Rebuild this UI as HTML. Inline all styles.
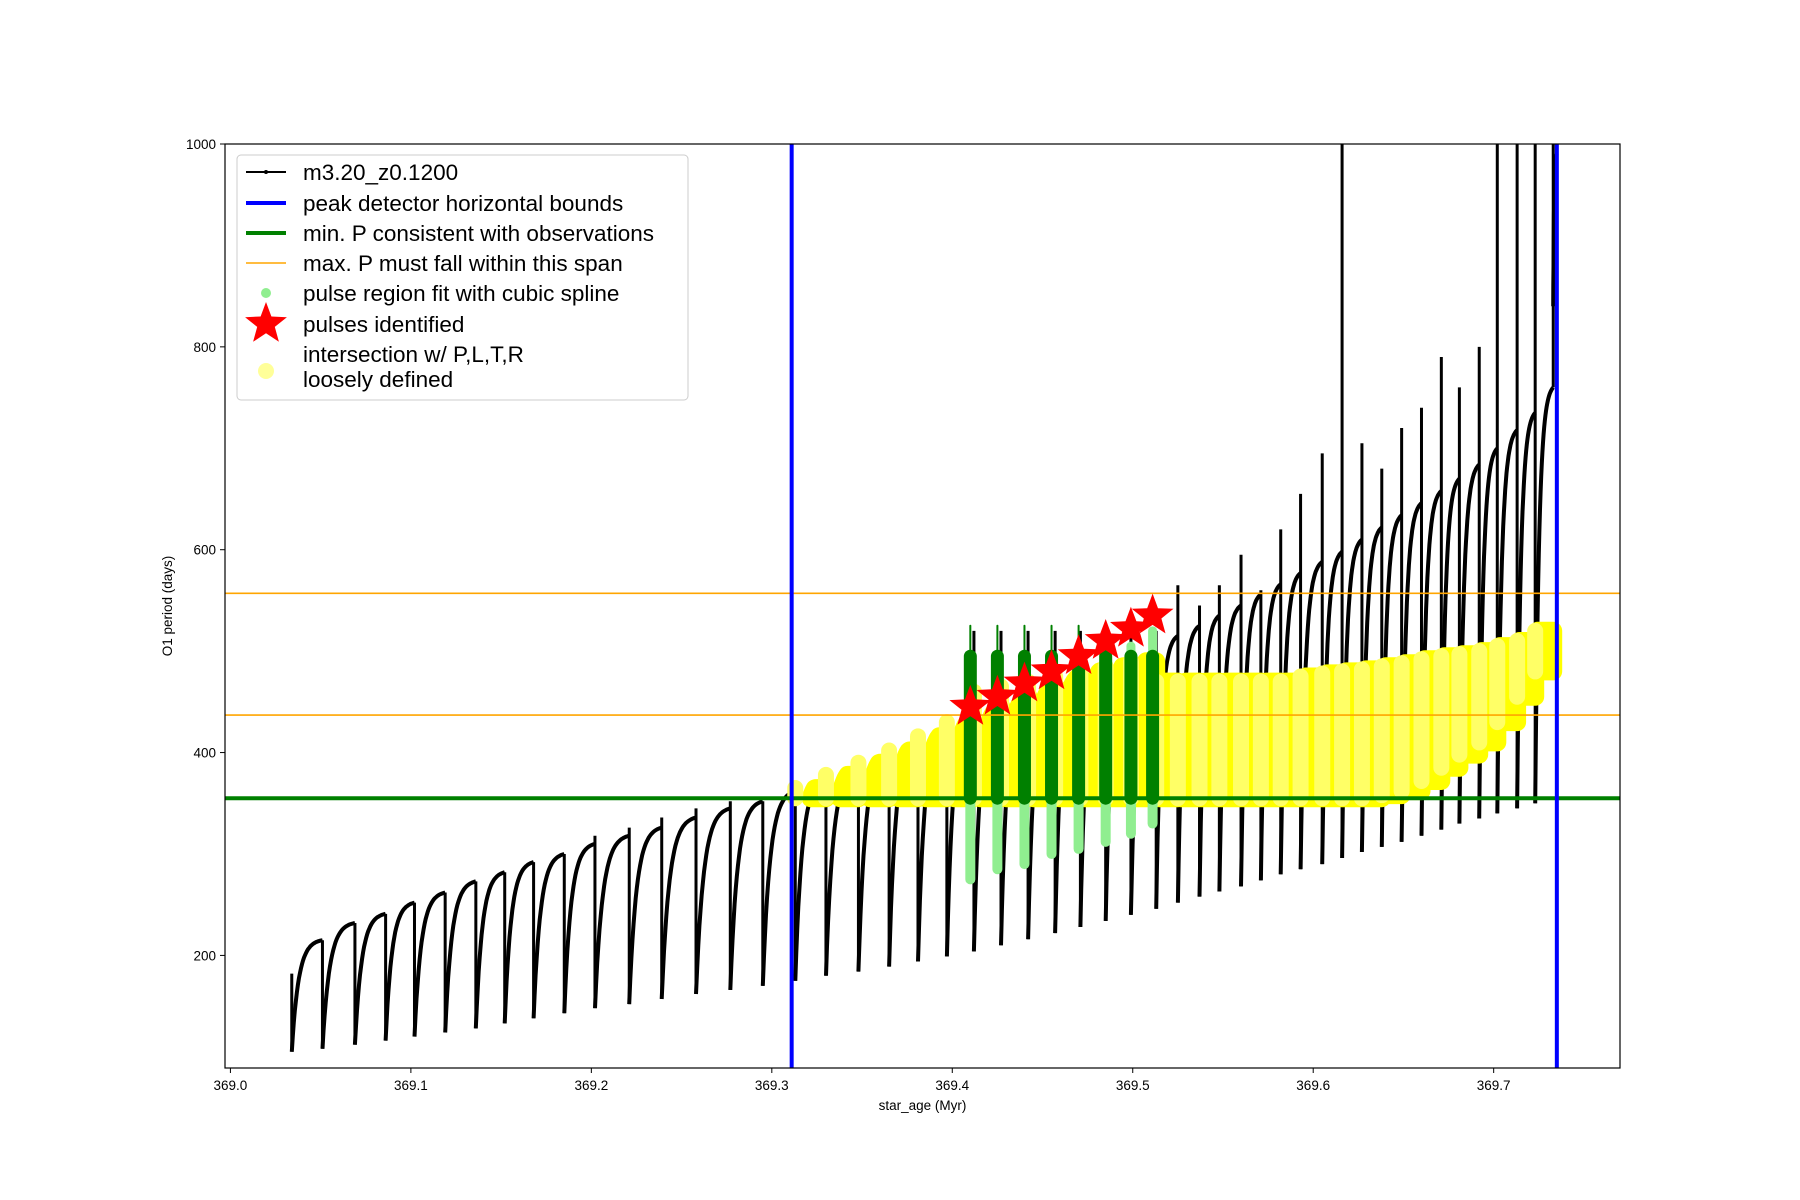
<!DOCTYPE html>
<html><head><meta charset="utf-8">
<style>
html,body{margin:0;padding:0;background:#fff;}
svg{display:block;font-family:"Liberation Sans","DejaVu Sans",sans-serif;}
</style></head>
<body>
<svg id="chart" width="1800" height="1200" viewBox="0 0 1800 1200" xmlns="http://www.w3.org/2000/svg">
</svg>
<script>
// ---- data ----
const cycleAge = [369.034,369.051,369.069,369.086,369.102,369.119,369.136,369.152,369.168,369.185,369.202,369.221,369.239,369.258,369.277,369.295,369.313,369.330,369.348,369.365,369.381,369.397,369.412,369.427,369.442,369.457,369.471,369.485,369.499,369.513,369.525,369.537,369.548,369.560,369.571,369.582,369.593,369.605,369.616,369.627,369.638,369.649,369.660,369.671,369.681,369.692,369.702,369.713,369.723,369.733];
const cycleMin = [105,108,112,116,120,124,128,133,138,143,148,152,157,162,166,170,175,180,184,189,194,199,204,210,216,222,228,234,240,246,252,258,263,268,274,280,285,290,296,302,307,312,318,324,330,335,340,345,350,840];
const cycleMax = [215,232,241,252,262,273,282,292,300,310,318,326,336,345,352,362,374,386,398,410,422,435,446,456,466,476,486,495,505,515,525,535,545,556,566,577,588,598,610,622,634,646,658,670,684,700,718,735,760,990];
const cycleSpike = [182,215,232,241,252,262,273,282,292,300,318,326,336,345,352,348,362,380,392,405,420,432,520,520,520,520,520,520,520,520,565,545,565,595,560,620,655,695,1000,705,680,720,740,790,760,800,1000,1000,1000,1000];
const yellowBottom = [0,0,0,0,0,0,0,0,0,0,0,0,0,0,0,0,355,355,355,355,355,355,355,355,355,355,355,355,355,355,355,355,355,355,355,355,355,355,355,355,358,362,372,385,398,410,430,455,480,0];
const yellowTop = [0,0,0,0,0,0,0,0,0,0,0,0,0,0,0,0,365,378,390,402,416,430,460,465,470,475,480,485,490,470,470,470,470,470,470,470,475,478,480,482,485,488,492,495,497,500,505,510,520,0];
const pulseAges = [369.410,369.425,369.440,369.455,369.470,369.485,369.499,369.511];
const pulsePeriods = [445,455,468,480,495,510,522,535];
const pulseFitLow = [275,285,290,300,305,312,320,330];
const pulseFitHigh = [525,525,525,525,525,505,505,520];
const xTicks = [369.0,369.1,369.2,369.3,369.4,369.5,369.6,369.7];
const yTicks = [200,400,600,800,1000];
const blueBounds = [369.311,369.735];
const minP = 355;
const maxPSpan = [437,557];

// ---- axes ----
const L=225,R=1620,T=144,B=1068;
const xmin=368.997,xmax=369.770,ymin=89,ymax=1000;
const X=v=>L+(v-xmin)/(xmax-xmin)*(R-L);
const Y=v=>B-(v-ymin)/(ymax-ymin)*(B-T);
const NS="http://www.w3.org/2000/svg";
const svg=document.getElementById('chart');
function mk(tag,attrs,parent){const e=document.createElementNS(NS,tag);for(const k in attrs)e.setAttribute(k,attrs[k]);(parent||svg).appendChild(e);return e;}

const defs=mk('defs',{});
const cp=mk('clipPath',{id:'clip'},defs);
mk('rect',{x:L,y:T,width:R-L,height:B-T},cp);
const plot=mk('g',{'clip-path':'url(#clip)'});



function curveAt(i,u){const f=(1-Math.exp(-4.5*u))/(1-Math.exp(-4.5));return cycleMin[i]+(cycleMax[i]-cycleMin[i])*f;}
function cycleEnd(i){return i<cycleAge.length-1?cycleAge[i+1]:cycleAge[i]+0.002;}

// black series
const blackG=mk('g',{},plot);


for(let i=0;i<cycleAge.length;i++){
  const a0=cycleAge[i],a1=cycleEnd(i);
  let pts=[];
  for(let k=0;k<=30;k++){const u=k/30;pts.push(X(a0+(a1-a0)*u).toFixed(1)+','+Y(curveAt(i,u)).toFixed(1));}
  const pl=mk('polyline',{points:pts.join(' '),fill:'none',stroke:'#000','stroke-width':4},blackG);
  
  
  const sp=mk('line',{x1:X(a0),x2:X(a0),y1:Y(Math.max(cycleSpike[i],i>0?cycleMax[i-1]:cycleSpike[i])),y2:Y(i>0?Math.min(cycleMin[i],cycleMax[i-1]):cycleMin[i]),stroke:'#000','stroke-width':3},blackG);
  
  
}

// yellow intersection
const yelG=mk('g',{},plot);


for(let i=0;i<cycleAge.length;i++){
  if(!yellowTop[i])continue;
  const a0=cycleAge[i],a1=cycleEnd(i),lo=yellowBottom[i],hi=yellowTop[i];
  let pts=[];
  for(let k=0;k<=30;k++){const u=k/30;const p=curveAt(i,u);if(p>=lo)pts.push(X(a0+(a1-a0)*u).toFixed(1)+','+Y(Math.min(p,hi)).toFixed(1));}
  if(pts.length){
    const first=pts[0].split(','),last=pts[pts.length-1].split(',');
    const poly=mk('polygon',{points:pts.join(' ')+' '+last[0]+','+Y(lo)+' '+first[0]+','+Y(lo),fill:'#ffff00',stroke:'#ffff00','stroke-width':18,'stroke-linejoin':'round'},yelG);
    
    
  }
  const vl=mk('line',{x1:X(a0),x2:X(a0),y1:Y(lo),y2:Y(hi),stroke:'#ffff66','stroke-width':16,'stroke-linecap':'round'},yelG);
  
  
}

// pulse fits
const fitG=mk('g',{},plot);


for(let i=0;i<pulseAges.length;i++){
  const x=X(pulseAges[i]);
  const l1=mk('line',{x1:x,x2:x,y1:Y(minP),y2:Y(pulseFitLow[i]),stroke:'#90ee90','stroke-width':10,'stroke-linecap':'round'},fitG);
  
  
  const l0=mk('line',{x1:x,x2:x,y1:Y(pulseFitHigh[i]),y2:Y(minP+140),stroke:i>=6?'#90ee90':'#008000','stroke-width':i>=6?9:2,'stroke-linecap':'round'},fitG);
  
  
  const l2=mk('line',{x1:x,x2:x,y1:Y(minP+140),y2:Y(minP),stroke:'#008000','stroke-width':13,'stroke-linecap':'round'},fitG);
  
  
}

// reference lines
maxPSpan.forEach(v=>{const l=mk('line',{x1:L,x2:R,y1:Y(v),y2:Y(v),stroke:'#ffa500','stroke-width':1.6},plot);
});
{const l=mk('line',{x1:L,x2:R,y1:Y(minP),y2:Y(minP),stroke:'#008000','stroke-width':4},plot);
}
blueBounds.forEach(v=>{const l=mk('line',{x1:X(v),x2:X(v),y1:T,y2:B,stroke:'#0000ff','stroke-width':4},plot);
});

// stars
function starPts(cx,cy,r){let p=[];for(let k=0;k<10;k++){const a=-Math.PI/2+k*Math.PI/5;const rr=k%2?r*0.42:r;p.push((cx+rr*Math.cos(a)).toFixed(1)+','+(cy+rr*Math.sin(a)).toFixed(1));}return p.join(' ');}
for(let i=0;i<pulseAges.length;i++){
  const s=mk('polygon',{points:starPts(X(pulseAges[i]),Y(pulsePeriods[i]),22),fill:'#ff0000'},plot);
  
  
}

// frame
{const f=mk('rect',{x:L,y:T,width:R-L,height:B-T,fill:'none',stroke:'#000','stroke-width':1.2});
}

// ticks
xTicks.forEach(v=>{const x=X(v);
 const t=mk('line',{x1:x,x2:x,y1:B,y2:B+5,stroke:'#000','stroke-width':1});
 const tx=mk('text',{x:x,y:B+22,'text-anchor':'middle','font-size':13.5});tx.textContent=v.toFixed(1);});
yTicks.forEach(v=>{const y=Y(v);
 const t=mk('line',{x1:L-5,x2:L,y1:y,y2:y,stroke:'#000','stroke-width':1});
 const tx=mk('text',{x:L-9,y:y+5,'text-anchor':'end','font-size':13.5});tx.textContent=v;});
{const t=mk('text',{x:(L+R)/2,y:B+42,'text-anchor':'middle','font-size':13.5});t.textContent='star_age (Myr)';}
{const t=mk('text',{x:0,y:0,'text-anchor':'middle','font-size':13.5,transform:`translate(172,${(T+B)/2}) rotate(-90)`});t.textContent='O1 period (days)';}

// legend
const lg=mk('g',{});


mk('rect',{x:237,y:155,width:451,height:245,rx:4,fill:'#fff','fill-opacity':0.8,stroke:'#ccc','stroke-width':1},lg);
const lx=246,tx0=303;
const rows=[172,203,233,263,293,324];
function ltext(y,s,name){const t=mk('text',{x:tx0,y:y+8,'font-size':22.5},lg);t.textContent=s;return t;}
mk('line',{x1:lx,x2:lx+40,y1:rows[0],y2:rows[0],stroke:'#000','stroke-width':2},lg);mk('circle',{cx:lx+20,cy:rows[0],r:2,fill:'#000'},lg);
ltext(rows[0],'m3.20_z0.1200','legend-series-label');
mk('line',{x1:lx,x2:lx+40,y1:rows[1],y2:rows[1],stroke:'#0000ff','stroke-width':4},lg);
ltext(rows[1],'peak detector horizontal bounds','legend-bounds-label');
mk('line',{x1:lx,x2:lx+40,y1:rows[2],y2:rows[2],stroke:'#008000','stroke-width':4},lg);
ltext(rows[2],'min. P consistent with observations','legend-min-label');
mk('line',{x1:lx,x2:lx+40,y1:rows[3],y2:rows[3],stroke:'#ffa500','stroke-width':1.6},lg);
ltext(rows[3],'max. P must fall within this span','legend-max-label');
mk('circle',{cx:lx+20,cy:rows[4],r:5,fill:'#90ee90'},lg);
ltext(rows[4],'pulse region fit with cubic spline','legend-fit-label');
mk('polygon',{points:starPts(lx+20,rows[5],22),fill:'#ff0000'},lg);
ltext(rows[5],'pulses identified','legend-pulse-label');
mk('circle',{cx:lx+20,cy:371,r:8,fill:'#ffff99'},lg);
ltext(354,'intersection w/ P,L,T,R','legend-intersection-label');
ltext(379,'loosely defined','legend-intersection-label-2');
</script>
</body></html>
